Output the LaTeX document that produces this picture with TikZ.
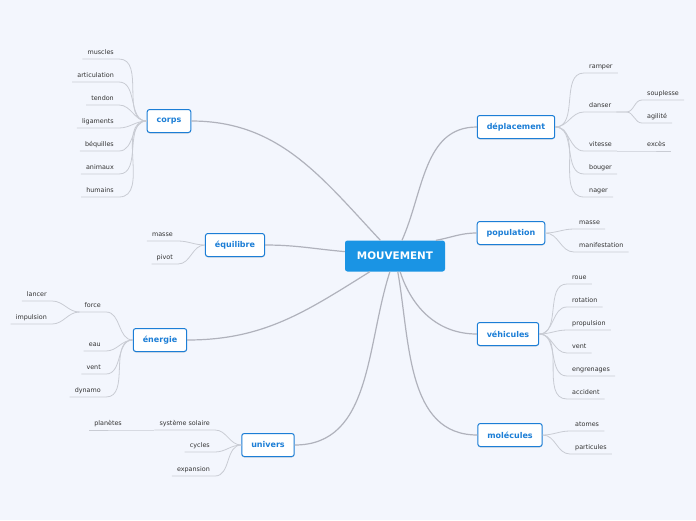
\documentclass[tikz,border=0pt]{standalone}
\usepackage{fontspec}
\setmainfont{DejaVu Sans}
\usepackage{xcolor}
\usepackage{tikz}
\usetikzlibrary{shadows}

\definecolor{bgpaper}{HTML}{F3F6FD}
\definecolor{mvblue}{HTML}{1A94E4}
\definecolor{topicblue}{HTML}{1C7ED6}
\definecolor{branchgray}{HTML}{B0B2BC}
\definecolor{leafgray}{HTML}{C9CCD4}
\definecolor{leaftext}{HTML}{333333}

\tikzset{
  mainbox/.style={fill=mvblue, rounded corners=2.5pt, text=white,
    font=\fontsize{10.4}{12}\selectfont\bfseries, minimum width=100pt, minimum height=31pt},
  topic/.style={draw=topicblue, line width=1pt, fill=white, rounded corners=2.5pt,
    text=topicblue, font=\fontsize{8}{10}\selectfont\bfseries, inner xsep=9.5pt,
    minimum height=23pt, drop shadow={shadow xshift=0pt, shadow yshift=-1pt, opacity=0.25}},
  leaf/.style={text=leaftext, font=\fontsize{6.4}{7.5}\selectfont, inner xsep=5pt,
    inner ysep=3.2pt, text height=4.7pt, text depth=1.5pt},
  branch/.style={draw=branchgray, line width=1.2pt},
  twig/.style={draw=leafgray, line width=0.8pt},
}

\begin{document}
\begin{tikzpicture}[x=1pt, y=-1pt]
    % Paper
    \fill[bgpaper] (0,0) rectangle (696,520);

    % Central topic
    \node[mainbox] (mv) at (395,256) {MOUVEMENT};

    % Main topics
    \node[topic] (corps) at (169,121) {corps};
    \node[topic] (equi) at (235,245) {équilibre};
    \node[topic] (energie) at (160,340) {énergie};
    \node[topic] (univers) at (268,445) {univers};
    \node[topic] (depl) at (516,127) {déplacement};
    \node[topic] (popu) at (511,233) {population};
    \node[topic] (vehi) at (508,334) {véhicules};
    \node[topic] (mole) at (510,435) {molécules};

    % Main branches
    \draw[branch] (corps.east) to[out=0, in=133] (mv.133);
    \draw[branch] (equi.east) to[out=0, in=175] (mv.175);
    \draw[branch] (energie.east) to[out=0, in=212] (mv.212);
    \draw[branch] (univers.east) to[out=0, in=252] (mv.252);
    \draw[branch] (mv.66) to[out=66, in=180] (depl.west);
    \draw[branch] (mv.21) to[out=10, in=180] (popu.west);
    \draw[branch] (mv.-72) to[out=-72, in=180] (vehi.west);
    \draw[branch] (mv.-80) to[out=-80, in=180] (mole.west);

    % corps
    \node[leaf, anchor=south east] (muscles) at (119,59) {muscles};
    \draw[twig] (corps.west) to[out=180, in=0] (muscles.south east) -- (muscles.south west);
    \node[leaf, anchor=south east] (articul) at (119,82) {articulation};
    \draw[twig] (corps.west) to[out=180, in=0] (articul.south east) -- (articul.south west);
    \node[leaf, anchor=south east] (tendon) at (119,105) {tendon};
    \draw[twig] (corps.west) to[out=180, in=0] (tendon.south east) -- (tendon.south west);
    \node[leaf, anchor=south east] (ligam) at (119,128) {ligaments};
    \draw[twig] (corps.west) to[out=180, in=0] (ligam.south east) -- (ligam.south west);
    \node[leaf, anchor=south east] (bequil) at (119,151) {béquilles};
    \draw[twig] (corps.west) to[out=180, in=0] (bequil.south east) -- (bequil.south west);
    \node[leaf, anchor=south east] (animaux) at (119,174) {animaux};
    \draw[twig] (corps.west) to[out=180, in=0] (animaux.south east) -- (animaux.south west);
    \node[leaf, anchor=south east] (humains) at (119,197) {humains};
    \draw[twig] (corps.west) to[out=180, in=0] (humains.south east) -- (humains.south west);

    % équilibre
    \node[leaf, anchor=south east] (masseA) at (178,241) {masse};
    \draw[twig] (equi.west) to[out=180, in=0] (masseA.south east) -- (masseA.south west);
    \node[leaf, anchor=south east] (pivot) at (178,264) {pivot};
    \draw[twig] (equi.west) to[out=180, in=0] (pivot.south east) -- (pivot.south west);

    % énergie
    \node[leaf, anchor=south east] (force) at (106,312) {force};
    \draw[twig] (energie.west) to[out=180, in=0] (force.south east) -- (force.south west);
    \node[leaf, anchor=south east] (lancer) at (52,301) {lancer};
    \draw[twig] (force.south west) to[out=180, in=0] (lancer.south east) -- (lancer.south west);
    \node[leaf, anchor=south east] (impuls) at (52,324) {impulsion};
    \draw[twig] (force.south west) to[out=180, in=0] (impuls.south east) -- (impuls.south west);
    \node[leaf, anchor=south east] (eau) at (106,351) {eau};
    \draw[twig] (energie.west) to[out=180, in=0] (eau.south east) -- (eau.south west);
    \node[leaf, anchor=south east] (ventA) at (106,374) {vent};
    \draw[twig] (energie.west) to[out=180, in=0] (ventA.south east) -- (ventA.south west);
    \node[leaf, anchor=south east] (dynamo) at (106,397) {dynamo};
    \draw[twig] (energie.west) to[out=180, in=0] (dynamo.south east) -- (dynamo.south west);

    % univers
    \node[leaf, anchor=south east] (systeme) at (215,430) {système solaire};
    \draw[twig] (univers.west) to[out=180, in=0] (systeme.south east) -- (systeme.south west);
    \node[leaf, anchor=south east] (planetes) at (127,430) {planètes};
    \draw[twig] (systeme.south west) -- (planetes.south east) -- (planetes.south west);
    \node[leaf, anchor=south east] (cycles) at (215,452) {cycles};
    \draw[twig] (univers.west) to[out=180, in=0] (cycles.south east) -- (cycles.south west);
    \node[leaf, anchor=south east] (expans) at (215,476) {expansion};
    \draw[twig] (univers.west) to[out=180, in=0] (expans.south east) -- (expans.south west);

    % déplacement
    \node[leaf, anchor=south west] (ramper) at (584,73) {ramper};
    \draw[twig] (depl.east) to[out=0, in=180] (ramper.south west) -- (ramper.south east);
    \node[leaf, anchor=south west] (danser) at (584,112) {danser};
    \draw[twig] (depl.east) to[out=0, in=180] (danser.south west) -- (danser.south east);
    \node[leaf, anchor=south west] (souple) at (642,100) {souplesse};
    \draw[twig] (danser.south east) -- ++(10,0) to[out=0, in=180] (souple.south west) -- (souple.south east);
    \node[leaf, anchor=south west] (agilite) at (642,123) {agilité};
    \draw[twig] (danser.south east) -- ++(10,0) to[out=0, in=180] (agilite.south west) -- (agilite.south east);
    \node[leaf, anchor=south west] (vitesse) at (584,151) {vitesse};
    \draw[twig] (depl.east) to[out=0, in=180] (vitesse.south west) -- (vitesse.south east);
    \node[leaf, anchor=south west] (exces) at (642,151) {excès};
    \draw[twig] (vitesse.south east) -- (exces.south west) -- (exces.south east);
    \node[leaf, anchor=south west] (bouger) at (584,174) {bouger};
    \draw[twig] (depl.east) to[out=0, in=180] (bouger.south west) -- (bouger.south east);
    \node[leaf, anchor=south west] (nager) at (584,197) {nager};
    \draw[twig] (depl.east) to[out=0, in=180] (nager.south west) -- (nager.south east);

    % population
    \node[leaf, anchor=south west] (masseB) at (574,229) {masse};
    \draw[twig] (popu.east) to[out=0, in=180] (masseB.south west) -- (masseB.south east);
    \node[leaf, anchor=south west] (manif) at (574,252) {manifestation};
    \draw[twig] (popu.east) to[out=0, in=180] (manif.south west) -- (manif.south east);

    % véhicules
    \node[leaf, anchor=south west] (roue) at (567,284) {roue};
    \draw[twig] (vehi.east) to[out=0, in=180] (roue.south west) -- (roue.south east);
    \node[leaf, anchor=south west] (rotation) at (567,307) {rotation};
    \draw[twig] (vehi.east) to[out=0, in=180] (rotation.south west) -- (rotation.south east);
    \node[leaf, anchor=south west] (propuls) at (567,330) {propulsion};
    \draw[twig] (vehi.east) to[out=0, in=180] (propuls.south west) -- (propuls.south east);
    \node[leaf, anchor=south west] (ventB) at (567,353) {vent};
    \draw[twig] (vehi.east) to[out=0, in=180] (ventB.south west) -- (ventB.south east);
    \node[leaf, anchor=south west] (engren) at (567,376) {engrenages};
    \draw[twig] (vehi.east) to[out=0, in=180] (engren.south west) -- (engren.south east);
    \node[leaf, anchor=south west] (accident) at (567,399) {accident};
    \draw[twig] (vehi.east) to[out=0, in=180] (accident.south west) -- (accident.south east);

    % molécules
    \node[leaf, anchor=south west] (atomes) at (570,431) {atomes};
    \draw[twig] (mole.east) to[out=0, in=180] (atomes.south west) -- (atomes.south east);
    \node[leaf, anchor=south west] (particul) at (570,454) {particules};
    \draw[twig] (mole.east) to[out=0, in=180] (particul.south west) -- (particul.south east);
\end{tikzpicture}
\end{document}
